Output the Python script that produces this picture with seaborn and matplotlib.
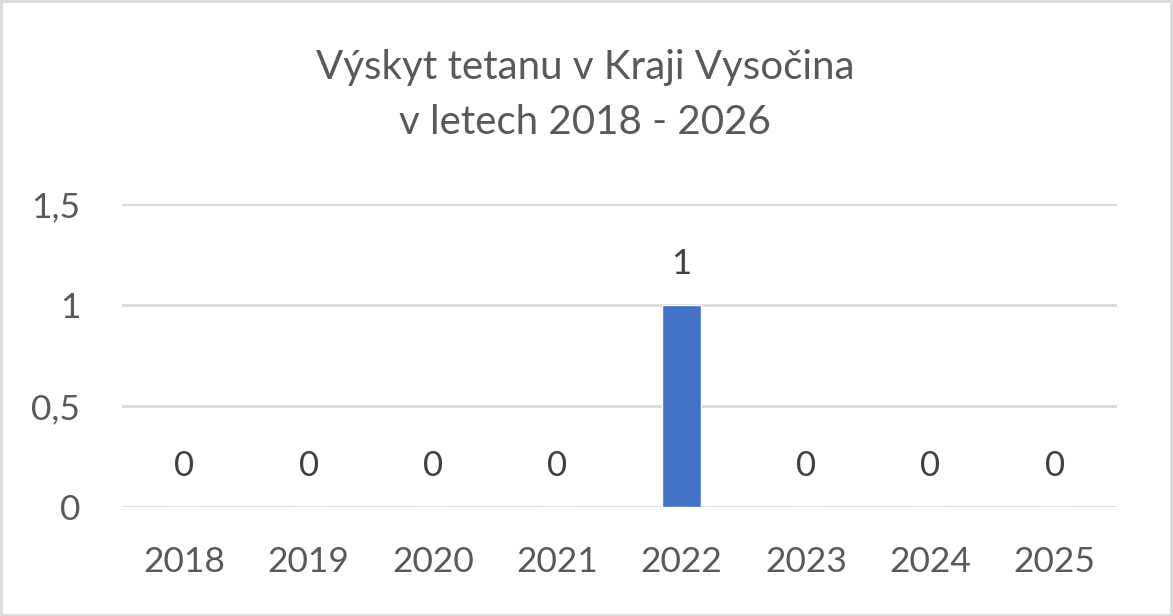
import pandas as pd
import matplotlib.pyplot as plt
import seaborn as sns
from matplotlib.patches import Rectangle

# data
roky = ['2018', '2019', '2020', '2021', '2022', '2023', '2024', '2025']
pocty = [0, 0, 0, 0, 1, 0, 0, 0]
y_ticks = [0, 0.5, 1, 1.5]
y_labels = ['0', '0,5', '1', '1,5']

sns.set_theme(style='white')
plt.rcParams['font.family'] = ['Lato', 'DejaVu Sans']

df = pd.DataFrame({'rok': roky, 'pocet': pocty})

fig = plt.figure(figsize=(11.73, 6.16), dpi=100)
ax = fig.add_axes([122 / 1173, 1 - 507 / 616, (1117 - 122) / 1173, (507 - 204) / 616])

sns.barplot(data=df, x='rok', y='pocet', color='#4472C4', width=0.31,
            saturation=1, ax=ax, zorder=3)

ax.set_ylim(0, 1.5)
ax.set_xlim(-0.5, len(roky) - 0.5)
ax.set_yticks(y_ticks)
ax.set_yticklabels(y_labels)
ax.grid(axis='y', color='#D9D9D9', linewidth=2, zorder=0)
ax.grid(axis='x', visible=False)
for s in ax.spines.values():
    s.set_visible(False)
ax.tick_params(axis='both', length=0, labelsize=25.5, colors='#595959')
ax.tick_params(axis='y', pad=30)
ax.tick_params(axis='x', pad=28)
ax.set_xlabel('')
ax.set_ylabel('')

# popisky hodnot
for i, v in enumerate(pocty):
    ax.annotate(str(v), (i, v), ha='center', va='bottom', fontsize=25,
                color='#404040', xytext=(0, 18), textcoords='offset points')

fig.text(585 / 1173, 1 - 68 / 616, 'Výskyt tetanu v Kraji Vysočina',
         ha='center', va='center', fontsize=29, color='#595959')
fig.text(585 / 1173, 1 - 123 / 616, 'v letech 2018 - 2026',
         ha='center', va='center', fontsize=29, color='#595959')

# ramecek
fig.patches.append(Rectangle((0.001, 0.002), 0.997, 0.996, transform=fig.transFigure,
                             fill=False, edgecolor='#D9D9D9', linewidth=2))

fig.savefig('out.png', dpi=100)
